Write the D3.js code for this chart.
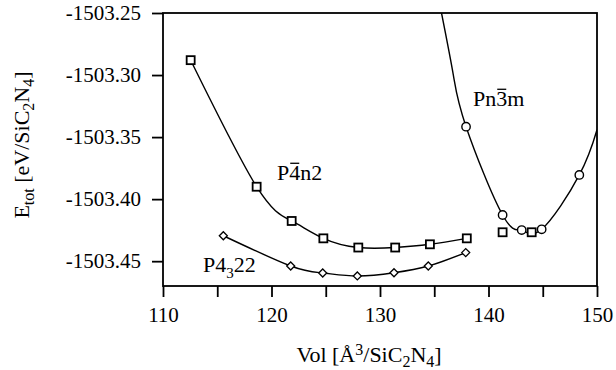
<!DOCTYPE html>
<html><head><meta charset="utf-8">
<script src="https://cdn.jsdelivr.net/npm/d3@7"></script>
<style>
body{margin:0;background:#fff;}
svg text, svg tspan{font-family:"Liberation Serif",serif !important;fill:#000;}
</style></head>
<body><svg id="c" width="616" height="370"></svg>
<script>
// P-4n2 (squares, fitted)
const p4n2Vol = [112.55, 118.63, 121.86, 124.78, 128.0, 131.4, 134.6, 138.0];
const p4n2E   = [-1503.288, -1503.390, -1503.4176, -1503.4316, -1503.439, -1503.439, -1503.4364, -1503.4316];
// extra squares (not fitted)
const p4n2ExtraVol = [141.3, 143.98];
const p4n2ExtraE   = [-1503.4267, -1503.4267];
// P4_3 22 (diamonds)
const p4322Vol = [115.56, 121.77, 124.72, 127.91, 131.29, 134.45, 137.9];
const p4322E   = [-1503.4295, -1503.4539, -1503.4595, -1503.4619, -1503.4593, -1503.4539, -1503.4431];
// Pn-3m (circles)
const pn3mVol = [137.93, 141.3, 143.06, 144.9, 148.37];
const pn3mE   = [-1503.3416, -1503.4128, -1503.4249, -1503.4243, -1503.3805];
// Pn-3m fitted curve
const pn3mCurveVol = [135.67, 136.76, 137.93, 141.3, 143.06, 144.9, 148.37, 150.0];
const pn3mCurveE   = [-1503.25, -1503.30, -1503.3416, -1503.4128, -1503.4249, -1503.4243, -1503.3805, -1503.344];

const xTicks = [110,115,120,125,130,135,140,145,150];
const xTickLabels = ["110","","120","","130","","140","","150"];
const yTicks = [-1503.25,-1503.30,-1503.35,-1503.40,-1503.45];
const yTickLabels = ["-1503.25","-1503.30","-1503.35","-1503.40","-1503.45"];

const FONT="Liberation Serif";
const W=616,H=370, m={l:163,t:13,r:19,b:84};
const svg=d3.select("#c");
const x=d3.scaleLinear().domain([110,150]).range([m.l,W-m.r]);
const y=d3.scaleLinear().domain([-1503.47,-1503.25]).range([H-m.b,m.t]);

svg.append("clipPath").attr("id","clip").append("rect")
  .attr("x",m.l).attr("y",m.t).attr("width",W-m.l-m.r).attr("height",H-m.t-m.b);

const fs=21;
const xa=svg.append("g").attr("transform",`translate(0,${H-m.b})`)
  .call(d3.axisBottom(x).tickValues(xTicks).tickSize(11).tickPadding(10)
    .tickFormat((d,i)=>xTickLabels[i]));
const ya=svg.append("g").attr("transform",`translate(${m.l},0)`)
  .call(d3.axisLeft(y).tickValues(yTicks).tickSize(11).tickPadding(11)
    .tickFormat((d,i)=>yTickLabels[i]));
[xa,ya].forEach(a=>{
  a.attr("font-family",FONT);
  a.select(".domain").remove();
  a.selectAll("line").attr("stroke","#000").attr("stroke-width",1.8);
  a.selectAll("text").style("font-size",fs+"px").style("font-family",FONT).attr("fill","#000");
});
svg.append("rect").attr("x",m.l).attr("y",m.t).attr("width",W-m.l-m.r).attr("height",H-m.t-m.b)
  .attr("fill","none").attr("stroke","#000").attr("stroke-width",1.8);

const line=d3.line().x(d=>x(d[0])).y(d=>y(d[1])).curve(d3.curveNatural);
const g=svg.append("g").attr("clip-path","url(#clip)");
const z=(a,b)=>a.map((v,i)=>[v,b[i]]);
[z(p4n2Vol,p4n2E), z(p4322Vol,p4322E), z(pn3mCurveVol,pn3mCurveE)].forEach(s=>
  g.append("path").datum(s).attr("d",line).attr("fill","none").attr("stroke","#000").attr("stroke-width",1.4));

const sq=8;
svg.append("g").selectAll("rect").data(z(p4n2Vol,p4n2E).concat(z(p4n2ExtraVol,p4n2ExtraE))).join("rect")
  .attr("x",d=>x(d[0])-sq/2).attr("y",d=>y(d[1])-sq/2).attr("width",sq).attr("height",sq)
  .attr("fill","#fff").attr("stroke","#000").attr("stroke-width",1.8);
svg.append("g").selectAll("circle").data(z(pn3mVol,pn3mE)).join("circle")
  .attr("cx",d=>x(d[0])).attr("cy",d=>y(d[1])).attr("r",4.2)
  .attr("fill","#fff").attr("stroke","#000").attr("stroke-width",1.4);
svg.append("g").selectAll("path").data(z(p4322Vol,p4322E)).join("path")
  .attr("d",d=>{const cx=x(d[0]),cy=y(d[1]),r=4;return `M${cx-r},${cy}L${cx},${cy-r}L${cx+r},${cy}L${cx},${cy+r}Z`;})
  .attr("fill","#fff").attr("stroke","#000").attr("stroke-width",1.3);

// series labels
const LFS=22;
const lab=(tx,ty)=>svg.append("text").attr("x",tx).attr("y",ty).style("font-size",LFS+"px").style("font-family",FONT);
function bar(textSel, charIndex, ty){
  const n=textSel.node();
  const a=n.getStartPositionOfChar(charIndex).x, b=n.getEndPositionOfChar(charIndex).x;
  svg.append("line").attr("x1",a+1).attr("x2",b-1).attr("y1",ty-LFS*0.76).attr("y2",ty-LFS*0.76)
    .attr("stroke","#000").attr("stroke-width",1.3);
}
let t=lab(473,106); t.text("Pn3m"); bar(t,2,106);
t=lab(277,180); t.text("P4n2"); bar(t,1,180);
t=lab(203,272); t.append("tspan").text("P4");
t.append("tspan").attr("dy",6).style("font-size","15px").text("3");
t.append("tspan").attr("dy",-6).text("22");

// axis titles
const TFS="22px", SFS="16px";
let xt=svg.append("text").attr("x",369).attr("y",362).attr("text-anchor","middle").style("font-size",TFS).style("font-family",FONT);
xt.append("tspan").text("Vol [Å");
xt.append("tspan").attr("dy",-7).style("font-size",SFS).text("3");
xt.append("tspan").attr("dy",7).text("/SiC");
xt.append("tspan").attr("dy",5).style("font-size",SFS).text("2");
xt.append("tspan").attr("dy",-5).text("N");
xt.append("tspan").attr("dy",5).style("font-size",SFS).text("4");
xt.append("tspan").attr("dy",-5).text("]");

let yt=svg.append("text").attr("transform","translate(29,145) rotate(-90)").attr("text-anchor","middle").style("font-size",TFS).style("font-family",FONT);
yt.append("tspan").text("E");
yt.append("tspan").attr("dy",5).style("font-size",SFS).text("tot");
yt.append("tspan").attr("dy",-5).text(" [eV/SiC");
yt.append("tspan").attr("dy",5).style("font-size",SFS).text("2");
yt.append("tspan").attr("dy",-5).text("N");
yt.append("tspan").attr("dy",5).style("font-size",SFS).text("4");
yt.append("tspan").attr("dy",-5).text("]");
</script></body></html>
